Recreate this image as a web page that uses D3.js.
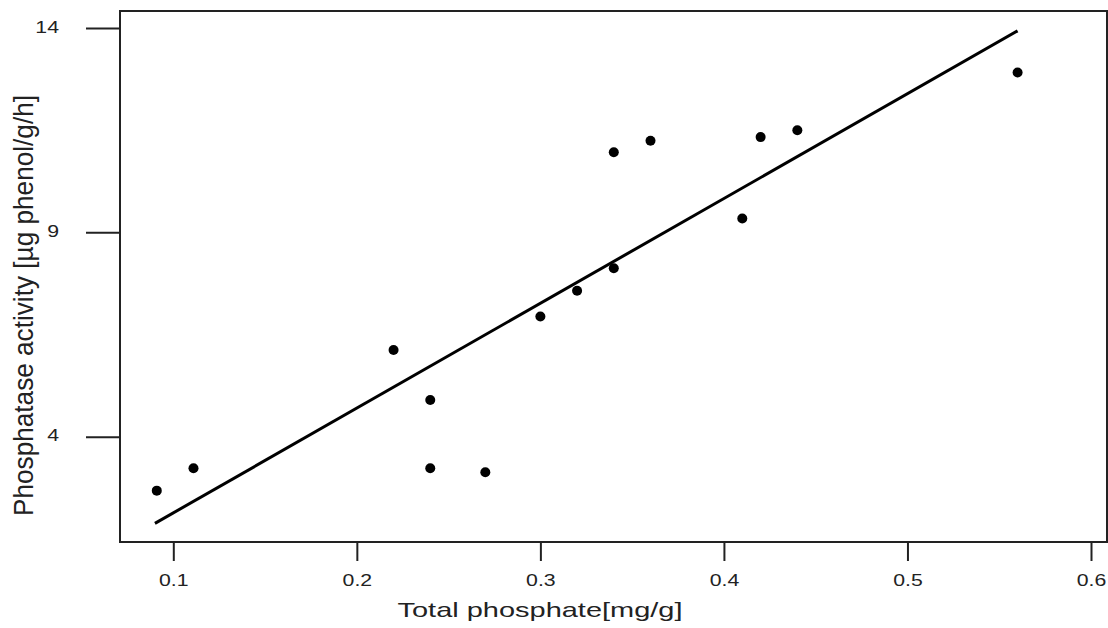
<!DOCTYPE html>
<html>
<head>
<meta charset="utf-8">
<script src="https://cdn.jsdelivr.net/npm/d3@7"></script>
<style>
  body { margin: 0; background: #fff; }
  svg { display: block; }
  text { font-family: "Liberation Sans", Arial, sans-serif; fill: #222; }
</style>
</head>
<body>
<div id="chart"></div>
<script>
// total phosphate [mg/g] vs phosphatase activity
const phosphate = [0.091, 0.111, 0.22, 0.24, 0.24, 0.27, 0.30, 0.32, 0.34, 0.34, 0.36, 0.41, 0.42, 0.44, 0.56];
const activity  = [2.68, 3.23, 6.12, 4.90, 3.23, 3.13, 6.94, 7.57, 8.12, 10.96, 11.24, 9.34, 11.33, 11.50, 12.91];

// fitted line end points
const fitX = [0.09, 0.56];
const fitY = [1.88, 13.93];

const xTicks = [0.1, 0.2, 0.3, 0.4, 0.5, 0.6];
const yTicks = [4, 9, 14];

const width = 1108, height = 628;
const frame = {left: 120, top: 11, right: 1107, bottom: 542};

const x = d3.scaleLinear().domain([0.1, 0.6]).range([173.3, 1091]);
const y = d3.scaleLinear().domain([4, 14]).range([436.7, 28]);

const svg = d3.select('#chart').append('svg')
    .attr('width', width)
    .attr('height', height);

// widen the tick labels a bit, the original font is broader than Arial
function stretch(sel, k) {
    sel.each(function() {
        const w = this.getComputedTextLength();
        d3.select(this).attr('textLength', w * k).attr('lengthAdjust', 'spacingAndGlyphs');
    });
}

// frame
svg.append('rect')
    .attr('x', frame.left)
    .attr('y', frame.top)
    .attr('width', frame.right - frame.left)
    .attr('height', frame.bottom - frame.top)
    .attr('fill', 'none')
    .attr('stroke', '#222')
    .attr('stroke-width', 2);

// x axis
const xAxis = svg.append('g')
    .attr('transform', 'translate(0,' + frame.bottom + ')')
    .call(d3.axisBottom(x).tickValues(xTicks).tickSize(19).tickFormat(d3.format('.1f')));
xAxis.select('.domain').remove();
xAxis.selectAll('.tick line').attr('stroke', '#222').attr('stroke-width', 2);
xAxis.selectAll('.tick text')
    .attr('y', 44).attr('dy', 0)
    .style('font-size', '17px')
    .style('font-family', '"Liberation Sans", Arial, sans-serif')
    .attr('fill', '#222')
    .call(stretch, 1.25);

// y axis
const yAxis = svg.append('g')
    .attr('transform', 'translate(' + frame.left + ',0)')
    .call(d3.axisLeft(y).tickValues(yTicks).tickSize(34));
yAxis.select('.domain').remove();
yAxis.selectAll('.tick line').attr('stroke', '#222').attr('stroke-width', 2);
yAxis.selectAll('.tick text')
    .attr('x', -61).attr('dy', 0).attr('y', 4)
    .style('font-size', '17px')
    .style('font-family', '"Liberation Sans", Arial, sans-serif')
    .attr('fill', '#222')
    .call(stretch, 1.25);

// fitted line
const line = d3.line()
    .x(d => x(d[0]))
    .y(d => y(d[1]));
svg.append('path')
    .datum(d3.zip(fitX, fitY))
    .attr('d', line)
    .attr('fill', 'none')
    .attr('stroke', '#000')
    .attr('stroke-width', 3);

// points
svg.append('g').selectAll('circle')
    .data(d3.zip(phosphate, activity))
    .enter().append('circle')
    .attr('cx', d => x(d[0]))
    .attr('cy', d => y(d[1]))
    .attr('r', 5)
    .attr('fill', '#000');

// axis titles
svg.append('text')
    .attr('x', 540)
    .attr('y', 617)
    .attr('text-anchor', 'middle')
    .attr('textLength', 285)
    .attr('lengthAdjust', 'spacingAndGlyphs')
    .style('font-size', '21px')
    .text('Total phosphate[mg/g]');

svg.append('text')
    .attr('transform', 'translate(33,305.5) rotate(-90)')
    .attr('text-anchor', 'middle')
    .attr('textLength', 421)
    .attr('lengthAdjust', 'spacingAndGlyphs')
    .style('font-size', '27px')
    .text('Phosphatase activity [µg phenol/g/h]');
</script>
</body>
</html>
